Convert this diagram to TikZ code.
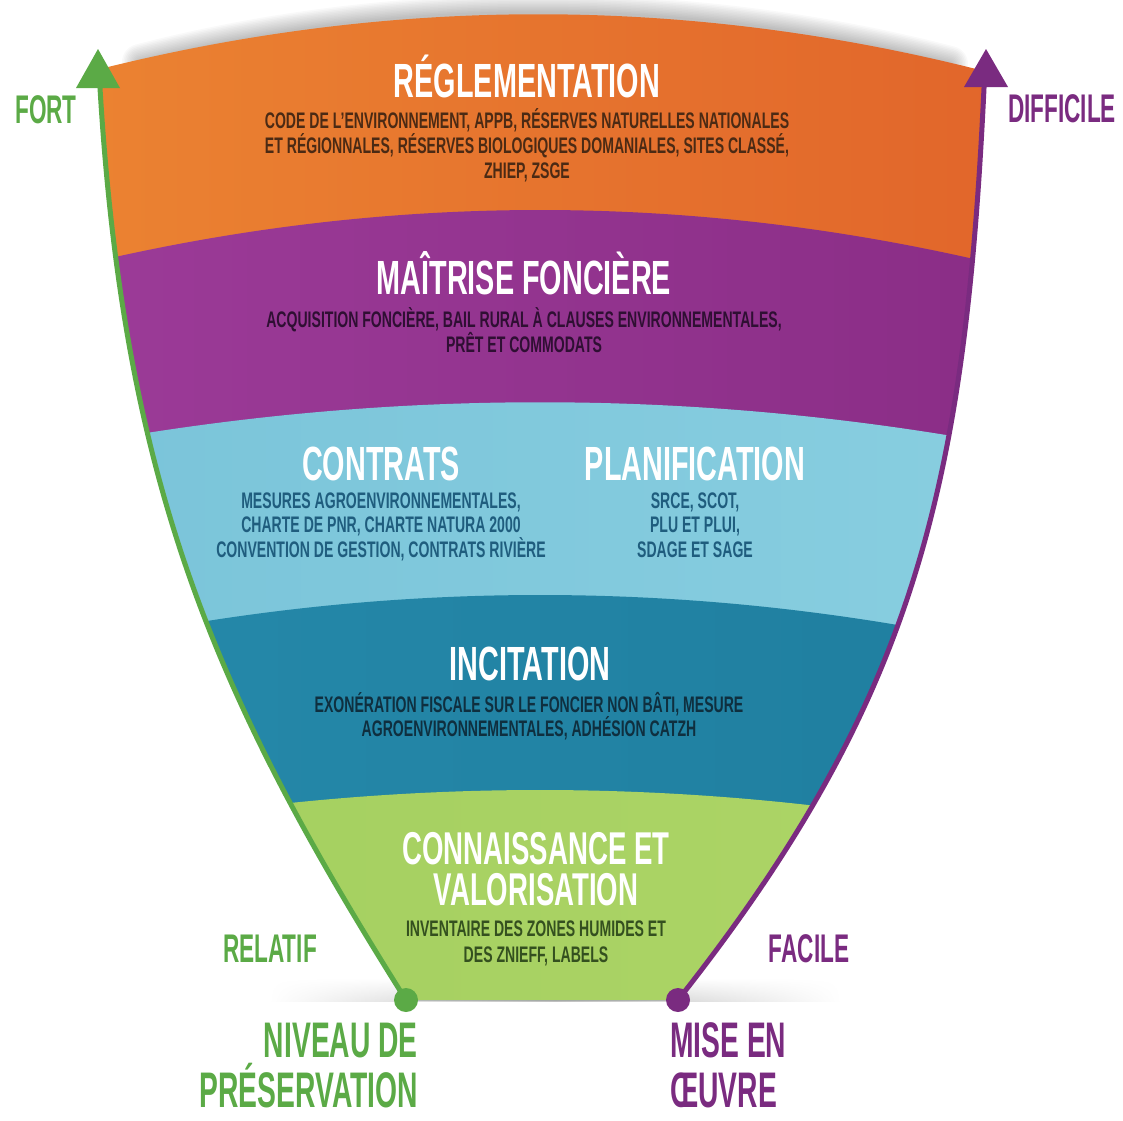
\documentclass[tikz,border=0pt]{standalone}
\usepackage{fontspec}
\newfontfamily\cf{Liberation Sans}[FakeStretch=0.60]
\newfontfamily\cfs{Liberation Sans}[FakeStretch=0.625]
\newfontfamily\cfl{Liberation Sans}[FakeStretch=0.565]
\usetikzlibrary{fadings}
\definecolor{cOrangeL}{HTML}{EC8532}
\definecolor{cOrangeD}{HTML}{E0622A}
\definecolor{cPurpleL}{HTML}{9C3B98}
\definecolor{cPurpleD}{HTML}{8A2D86}
\definecolor{cLBlue}{HTML}{88CEE0}
\definecolor{cLBlueD}{HTML}{7AC4D9}
\definecolor{cDBlue}{HTML}{2589AA}
\definecolor{cDBlueD}{HTML}{1F7E9F}
\definecolor{cGreenB}{HTML}{A3CF5F}
\definecolor{cGreenL}{HTML}{AED567}
\definecolor{cGreen}{HTML}{5BAA46}
\definecolor{cPurp}{HTML}{7A2B80}
\definecolor{tOr}{HTML}{4B2A14}
\definecolor{tPu}{HTML}{2F0F33}
\definecolor{tLB}{HTML}{1F5D7E}
\definecolor{tDB}{HTML}{0F2F3F}
\definecolor{tGr}{HTML}{34501F}
\tikzfading[name=hfade, left color=transparent!100, right color=transparent!100, middle color=transparent!0]
\begin{document}
\begin{tikzpicture}[x=1pt,y=-1pt,
  ttl/.style={text=white, font=\cf\bfseries\fontsize{48}{48}\selectfont, inner sep=0pt, anchor=base},
  subt/.style={font=\cfs\bfseries\fontsize{22.5}{25}\selectfont, inner sep=0pt, anchor=base},
  side/.style={font=\cfl\bfseries\fontsize{40}{40}\selectfont, inner sep=0pt, anchor=base},
  big/.style={font=\cfl\bfseries\fontsize{50}{50}\selectfont, inner sep=0pt},
  edge/.style={line width=5pt}]
\useasboundingbox (0,0) rectangle (1123,1120);
\def\funnel{(104,68) .. controls (395,-4) and (687,-4) .. (980,70) -- (984,88) .. controls (965,488) and (915,700) .. (678,1000) -- (406,1000) .. controls (217,700) and (124,488) .. (100,88) -- cycle}
% shadows
\foreach \k in {1,...,12}{
  \draw[black, opacity=0.025, line width=3*\k pt, line cap=round] (140,62) .. controls (395,-4) and (687,-4) .. (950,64);
}
\shade[top color=white, bottom color=black!25, path fading=hfade] (270,978) rectangle (840,1001);
% bands
\begin{scope}
  \clip \funnel;
  \shade[left color=cOrangeL, right color=cOrangeD] (0,0) rectangle (1123,1120);
  \shade[left color=cPurpleL, right color=cPurpleD] (60,270) .. controls (380,190) and (700,190) .. (1020,270) -- (1020,1100) -- (60,1100) -- cycle;
  \shade[left color=cLBlueD, right color=cLBlue] (60,448) .. controls (380,387) and (700,387) .. (1020,448) -- (1020,1100) -- (60,1100) -- cycle;
  \shade[left color=cDBlue, right color=cDBlueD] (60,649) .. controls (380,577) and (700,577) .. (1020,649) -- (1020,1100) -- (60,1100) -- cycle;
  \shade[left color=cGreenB, right color=cGreenL] (60,838) .. controls (380,774) and (700,774) .. (1020,838) -- (1020,1100) -- (60,1100) -- cycle;
\end{scope}
% axes
\coordinate (dotL) at (406,1000);
\coordinate (dotR) at (678,1000);
\coordinate (baseL) at (100,88);
\coordinate (baseR) at (984,88);
\draw[cGreen, edge] (dotL) .. controls (217,700) and (124,488) .. (baseL) -- (99,72);
\fill[cGreen] (98,49) -- (76,88) -- (120,88) -- cycle;
\draw[cPurp, edge] (dotR) .. controls (915,700) and (965,488) .. (baseR) -- (985,72);
\fill[cPurp] (986,49) -- (964,87) -- (1008,87) -- cycle;
\fill[cGreen] (dotL) circle (12);
\fill[cPurp] (dotR) circle (12);
% texts
\node[ttl] (reg) at (527,97) {RÉGLEMENTATION};
\node[subt, text=tOr] (reg1) at (527,128) {CODE DE L’ENVIRONNEMENT, APPB, RÉSERVES NATURELLES NATIONALES};
\node[subt, text=tOr] (reg2) at (527,153) {ET RÉGIONNALES, RÉSERVES BIOLOGIQUES DOMANIALES, SITES CLASSÉ,};
\node[subt, text=tOr] (reg3) at (527,178) {ZHIEP, ZSGE};
\node[ttl] (mai) at (524,294) {MAÎTRISE FONCIÈRE};
\node[subt, text=tPu] (mai1) at (524,327) {ACQUISITION FONCIÈRE, BAIL RURAL À CLAUSES ENVIRONNEMENTALES,};
\node[subt, text=tPu] (mai2) at (524,352) {PRÊT ET COMMODATS};
\node[ttl] (con) at (381,480) {CONTRATS};
\node[ttl] (pla) at (695,480) {PLANIFICATION};
\node[subt, text=tLB] (con1) at (381,508) {MESURES AGROENVIRONNEMENTALES,};
\node[subt, text=tLB] (con2) at (381,532) {CHARTE DE PNR, CHARTE NATURA 2000};
\node[subt, text=tLB] (con3) at (381,557) {CONVENTION DE GESTION, CONTRATS RIVIÈRE};
\node[subt, text=tLB] (pla1) at (695,508) {SRCE, SCOT,};
\node[subt, text=tLB] (pla2) at (695,532) {PLU ET PLUI,};
\node[subt, text=tLB] (pla3) at (695,557) {SDAGE ET SAGE};
\node[ttl] (inc) at (530,680) {INCITATION};
\node[subt, text=tDB] (inc1) at (529,712) {EXONÉRATION FISCALE SUR LE FONCIER NON BÂTI, MESURE};
\node[subt, text=tDB] (inc2) at (529,736) {AGROENVIRONNEMENTALES, ADHÉSION CATZH};
\node[ttl, anchor=north, align=center, font=\cf\bfseries\fontsize{46}{41.5}\selectfont] (kno) at (536,832) {CONNAISSANCE ET\\VALORISATION};
\node[subt, text=tGr] (kno3) at (536,936) {INVENTAIRE DES ZONES HUMIDES ET};
\node[subt, text=tGr] (kno4) at (536,962) {DES ZNIEFF, LABELS};
\node[side, text=cGreen] (fort) at (46,123) {FORT};
\node[side, text=cPurp] (diff) at (1062,122) {DIFFICILE};
\node[side, text=cGreen] (rel) at (270,962) {RELATIF};
\node[side, text=cPurp] (fac) at (809,962) {FACILE};
\node[big, text=cGreen, anchor=base east] (niv1) at (418,1057) {NIVEAU DE};
\node[big, text=cGreen, anchor=base east] (niv2) at (418,1107) {PRÉSERVATION};
\node[big, text=cPurp, anchor=base west] (mise1) at (670,1057) {MISE EN};
\node[big, text=cPurp, anchor=base west] (mise2) at (670,1107) {ŒUVRE};
\end{tikzpicture}
\end{document}
